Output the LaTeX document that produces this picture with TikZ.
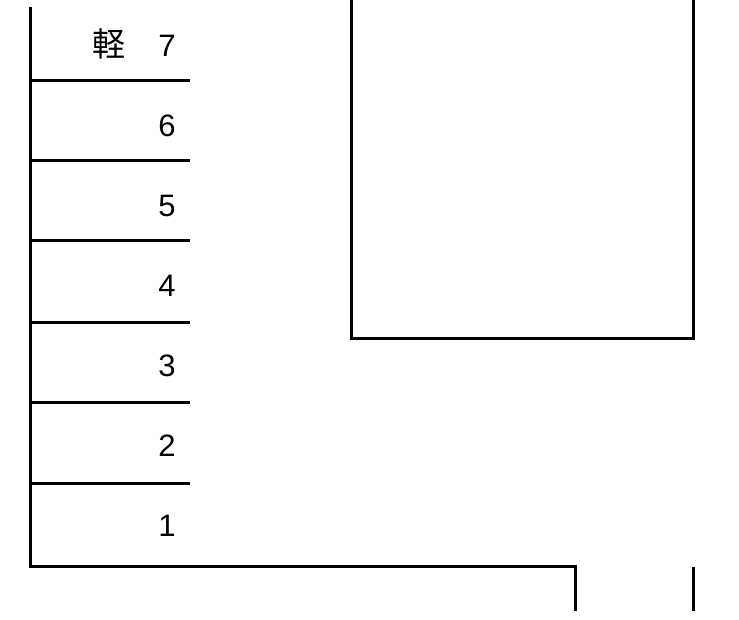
\documentclass[tikz,border=0pt]{standalone}
\usepackage{fontspec}
\setmainfont{Liberation Sans}
\newfontfamily\cjk{Noto Sans CJK JP}
\begin{document}
\begin{tikzpicture}[x=1pt,y=-1pt,
  wall/.style={line width=3pt,line cap=rect},
  num/.style={font=\fontsize{31}{34}\selectfont,inner sep=0pt,anchor=center}]
\useasboundingbox (0,0) rectangle (739,619);
% left column of bays
\draw[wall] (30,8) -- (30,566) -- (575,566) -- (575,609);
\draw[wall] (693,568) -- (693,609);
\foreach \y in {80,160,240,322,402,483}
  \draw[wall] (30,\y) -- (188,\y);
% building
\draw[wall] (351,-2) -- (351,338) -- (693,338) -- (693,-2);
% labels
\node[num] (n7) at (167,46) {7};
\node[num] (n6) at (167,126) {6};
\node[num] (n5) at (167,206) {5};
\node[num] (n4) at (167,286) {4};
\node[num] (n3) at (167,366) {3};
\node[num] (n2) at (167,446) {2};
\node[num] (n1) at (167,526) {1};
\node[inner sep=0pt,font=\cjk\fontsize{33}{36}\selectfont] (kei) at (109,44) {軽};
\end{tikzpicture}
\end{document}
